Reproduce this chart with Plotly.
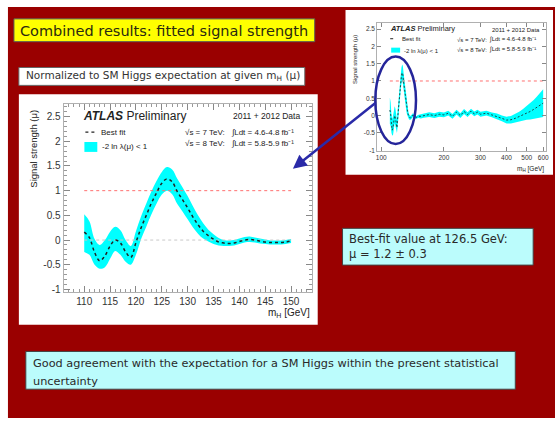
import plotly.graph_objects as go

W, H = 558, 421

# ---------------- data ----------------
mass_main = [110, 111, 112, 113, 114, 115, 116, 117, 118, 119, 120,
             121, 122, 123, 124, 125, 126, 127, 128, 129, 130,
             131, 132, 133, 134, 135, 136, 137, 138, 139, 140,
             141, 142, 143, 144, 145, 146, 147, 148, 149, 150]
mu_main = [0.16, 0.05, -0.25, -0.42, -0.32, -0.12, 0.0, -0.06, -0.24, -0.35, -0.05,
           0.25, 0.5, 0.75, 0.96, 1.15, 1.24, 1.18, 0.98, 0.82, 0.65,
           0.47, 0.31, 0.18, 0.09, 0.02, -0.04, -0.06, -0.07, -0.06, -0.03,
           0.0, 0.01, 0.0, -0.02, -0.04, -0.05, -0.05, -0.05, -0.04, -0.02]
mu_up_main = [0.52, 0.38, 0.02, -0.1, 0.0, 0.17, 0.27, 0.2, 0.0, -0.12, 0.18,
              0.48, 0.74, 0.99, 1.2, 1.38, 1.48, 1.43, 1.24, 1.07, 0.89,
              0.69, 0.5, 0.34, 0.21, 0.12, 0.04, 0.0, -0.01, 0.0, 0.03,
              0.06, 0.07, 0.05, 0.03, 0.01, -0.01, -0.01, -0.01, 0.0, 0.02]
mu_dn_main = [-0.24, -0.3, -0.5, -0.58, -0.55, -0.38, -0.22, -0.3, -0.44, -0.5, -0.3,
              0.02, 0.27, 0.52, 0.74, 0.92, 1.0, 0.93, 0.73, 0.58, 0.42,
              0.26, 0.13, 0.03, -0.03, -0.08, -0.11, -0.12, -0.12, -0.11, -0.08,
              -0.05, -0.04, -0.05, -0.07, -0.08, -0.09, -0.09, -0.09, -0.08, -0.06]

mass_hi = [155, 160, 170, 180, 190, 200, 210, 220, 230, 240, 250, 260, 270, 280, 290,
           300, 320, 340, 360, 380, 400, 420, 440, 460, 480, 500, 520, 540, 560, 580, 600]
mu_hi = [-0.02, 0.0, 0.03, 0.0, 0.04, 0.02, 0.07, -0.02, 0.1, 0.0, 0.12, 0.03, 0.13, 0.05, 0.1,
         0.04, 0.07, 0.02, -0.02, -0.08, -0.13, -0.12, -0.08, -0.03, 0.02, 0.08, 0.12, 0.18, 0.24, 0.3, 0.36]
mu_up_hi = [0.04, 0.06, 0.1, 0.07, 0.11, 0.09, 0.14, 0.05, 0.17, 0.07, 0.19, 0.1, 0.2, 0.12, 0.17,
            0.11, 0.14, 0.09, 0.06, 0.0, -0.03, -0.01, 0.04, 0.11, 0.19, 0.28, 0.35, 0.45, 0.55, 0.65, 0.76]
mu_dn_hi = [-0.08, -0.06, -0.04, -0.07, -0.03, -0.05, 0.0, -0.09, 0.03, -0.07, 0.05, -0.04, 0.06, -0.02, 0.03,
            -0.03, 0.0, -0.05, -0.1, -0.16, -0.23, -0.23, -0.2, -0.17, -0.15, -0.12, -0.11, -0.09, -0.07, -0.05, -0.04]

sm_mu = 1.0
zero_mu = 0.0
ref_mass_main = [110, 150]
ref_mass_inset = [110, 600]

main_xticks = [110, 115, 120, 125, 130, 135, 140, 145, 150]
main_yticks = [-1, -0.5, 0, 0.5, 1, 1.5, 2, 2.5]
main_ytick_text = ["-1", "-0.5", "0", "0.5", "1", "1.5", "2", "2.5"]
inset_xticks = [100, 200, 300, 400, 500, 600]

title_text = "Combined results: fitted signal strength"
subtitle_text = "Normalized to SM Higgs expectation at given m<sub>H</sub> (μ)"
bestfit_lines = ["Best-fit value at 126.5 GeV:", "μ = 1.2 ± 0.3"]
conclusion_lines = ["Good agreement with the expectation for a SM Higgs within the present statistical",
                    "uncertainty"]

# ---------------- helpers ----------------
def px(x):
    return x / W

def py(y):
    return 1 - y / H

SLIDE_FONT = "DejaVu Sans"
PLOT_FONT = "Liberation Sans"
CYAN = "#00ffff"

fig = go.Figure()

# ---------- main plot traces ----------
fig.add_trace(go.Scatter(x=mass_main, y=mu_up_main, mode="lines", line=dict(width=0, shape="spline"),
                         hoverinfo="skip", showlegend=False, xaxis="x", yaxis="y"))
fig.add_trace(go.Scatter(x=mass_main, y=mu_dn_main, mode="lines", line=dict(width=0, shape="spline"),
                         fill="tonexty", fillcolor=CYAN, hoverinfo="skip", showlegend=False,
                         xaxis="x", yaxis="y"))
fig.add_trace(go.Scatter(x=ref_mass_main, y=[sm_mu, sm_mu], mode="lines",
                         line=dict(color="#ff7070", width=1, dash="dot"), showlegend=False,
                         xaxis="x", yaxis="y"))
fig.add_trace(go.Scatter(x=ref_mass_main, y=[zero_mu, zero_mu], mode="lines",
                         line=dict(color="#c8c8c8", width=1, dash="dot"), showlegend=False,
                         xaxis="x", yaxis="y"))
fig.add_trace(go.Scatter(x=mass_main, y=mu_main, mode="lines",
                         line=dict(color="#222222", width=1.5, dash="3px,3px", shape="spline"),
                         showlegend=False, xaxis="x", yaxis="y"))

# ---------- inset traces ----------
mass_all = mass_main + mass_hi
fig.add_trace(go.Scatter(x=mass_all, y=mu_up_main + mu_up_hi, mode="lines",
                         line=dict(width=0), hoverinfo="skip", showlegend=False,
                         xaxis="x2", yaxis="y2"))
fig.add_trace(go.Scatter(x=mass_all, y=mu_dn_main + mu_dn_hi, mode="lines",
                         line=dict(width=0), fill="tonexty", fillcolor=CYAN,
                         hoverinfo="skip", showlegend=False, xaxis="x2", yaxis="y2"))
fig.add_trace(go.Scatter(x=ref_mass_inset, y=[sm_mu, sm_mu], mode="lines",
                         line=dict(color="#ff7070", width=1, dash="dot"), showlegend=False,
                         xaxis="x2", yaxis="y2"))
fig.add_trace(go.Scatter(x=mass_all, y=mu_main + mu_hi, mode="lines",
                         line=dict(color="#1a4a4a", width=1, dash="2px,2px"),
                         showlegend=False, xaxis="x2", yaxis="y2"))

# ---------- shapes ----------
shapes = []

def rect(x0, y0, x1, y1, fill, line_color=None, lw=0, layer="below"):
    shapes.append(dict(type="rect", xref="paper", yref="paper",
                       x0=px(x0), x1=px(x1), y0=py(y1), y1=py(y0),
                       fillcolor=fill, line=dict(color=line_color or fill, width=lw),
                       layer=layer))

rect(7, 7, 558, 421, "#9a0000")                       # slide background
rect(13, 19, 316, 42, "#ffff00", "#555555", 1)        # title box
rect(18, 68, 306, 86, "#ffffff", "#666666", 1)        # subtitle box
rect(18, 95, 319, 327, "#ffffff")                     # main chart paper
rect(347, 10, 556, 176, "#ffffff")                    # inset chart paper
rect(344, 230, 536, 267, "#bbfcfc", "#444444", 1)     # best fit box
rect(25, 354, 518, 392, "#bbfcfc", "#444444", 1)      # conclusion box

# legend symbols (main)
shapes.append(dict(type="line", xref="paper", yref="paper", x0=px(85), x1=px(95), y0=py(133), y1=py(133),
                   line=dict(color="#222", width=1.2, dash="3px,3px"), layer="above"))
rect(84, 143, 97, 153, CYAN, layer="above")
# legend symbols (inset)
shapes.append(dict(type="line", xref="paper", yref="paper", x0=px(392), x1=px(398), y0=py(39), y1=py(39),
                   line=dict(color="#222", width=1, dash="dot"), layer="above"))
rect(393, 48, 402, 53, CYAN, layer="above")

# blue ellipse around the peak in the inset
shapes.append(dict(type="circle", xref="paper", yref="paper",
                   x0=px(377), x1=px(418), y0=py(145), y1=py(57),
                   line=dict(color="#25259a", width=2.5), layer="above"))

# ---------- annotations ----------
ann = []

def text(x, y, s, size, font=PLOT_FONT, color="#222", xanchor="left", angle=0, yanchor="middle"):
    ann.append(dict(x=px(x), y=py(y), xref="paper", yref="paper", text=s, showarrow=False,
                    xanchor=xanchor, yanchor=yanchor, textangle=angle,
                    font=dict(family=font, size=size, color=color)))

# slide texts
text(17, 31, title_text, 14.5, SLIDE_FONT, "#2a2a10")
text(23, 77, subtitle_text, 10.5, SLIDE_FONT, "#333")
text(349, 241, bestfit_lines[0], 11.5, SLIDE_FONT, "#2a2a2a")
text(349, 256, bestfit_lines[1], 11.5, SLIDE_FONT, "#2a2a2a")
text(30, 366, conclusion_lines[0], 11.3, SLIDE_FONT, "#2a2a2a")
text(30, 384, conclusion_lines[1], 11.3, SLIDE_FONT, "#2a2a2a")

# main chart labels
text(81, 117, "<b><i>ATLAS</i></b> Preliminary", 12)
text(303, 117, "2011 + 2012 Data", 8.5, xanchor="right")
text(99, 133, "Best fit", 8)
text(100, 148, "-2 ln λ(μ) < 1", 8)
text(183, 133, "√s = 7 TeV:", 8)
text(183, 145, "√s = 8 TeV:", 8)
text(230, 133, "∫Ldt = 4.6-4.8 fb⁻¹", 8)
text(230, 145, "∫Ldt = 5.8-5.9 fb⁻¹", 8)
text(33, 150, "Signal strength (μ)", 9.5, angle=-90, xanchor="center")
text(313, 315, "m<sub>H</sub> [GeV]", 10, xanchor="right")

# inset labels
text(390, 29, "<b><i>ATLAS</i></b> Preliminary", 7.5)
text(545, 30, "2011 + 2012 Data", 6, xanchor="right")
text(402, 39, "Best fit", 6)
text(404, 51, "-2 ln λ(μ) < 1", 6)
text(457, 40, "√s = 7 TeV:", 6)
text(457, 50, "√s = 8 TeV:", 6)
text(490, 40, "∫Ldt = 4.6-4.8 fb⁻¹", 6)
text(490, 50, "∫Ldt = 5.8-5.9 fb⁻¹", 6)
text(356, 60, "Signal strength (μ)", 6, angle=-90, xanchor="center")
text(549, 170, "m<sub>H</sub> [GeV]", 6.5, xanchor="right")

# blue arrow from the ellipse to the main plot
ann.append(dict(x=px(294), y=py(170), xref="paper", yref="paper", text="", showarrow=True,
                ax=84, ay=-67, arrowhead=2, arrowsize=1.1, arrowwidth=2.5, arrowcolor="#2a2aa8"))

axis_common = dict(showgrid=False, zeroline=False, showline=True, linecolor="#b0b0b0",
                   linewidth=1, mirror="ticks", ticks="inside", tickcolor="#888")

fig.update_layout(
    width=W, height=H, autosize=False,
    margin=dict(l=0, r=0, t=0, b=0, pad=0),
    paper_bgcolor="#ffffff", plot_bgcolor="#ffffff",
    showlegend=False,
    xaxis=dict(domain=[px(63), px(313)], range=[106, 154], tickvals=main_xticks,
               ticklen=6, minor=dict(dtick=1, ticks="inside", ticklen=3, tickcolor="#999"),
               tickfont=dict(family=PLOT_FONT, size=10, color="#333"), anchor="y", **axis_common),
    yaxis=dict(domain=[py(294), py(105)], range=[-1.05, 2.75], tickvals=main_yticks,
               ticktext=main_ytick_text, ticklen=6,
               minor=dict(dtick=0.1, ticks="inside", ticklen=3, tickcolor="#999"),
               tickfont=dict(family=PLOT_FONT, size=10, color="#333"), anchor="x", **axis_common),
    xaxis2=dict(domain=[px(379), px(549)], type="log", range=[1.981, 2.792], tickvals=inset_xticks,
                ticktext=[str(v) for v in inset_xticks], ticklen=4,
                tickfont=dict(family=PLOT_FONT, size=6.5, color="#333"), anchor="y2", **axis_common),
    yaxis2=dict(domain=[py(152), py(23)], range=[-1.02, 2.68], tickvals=main_yticks,
                ticktext=main_ytick_text, ticklen=4,
                tickfont=dict(family=PLOT_FONT, size=6.5, color="#333"), anchor="x2", **axis_common),
    shapes=shapes,
    annotations=ann,
)

fig.write_html("out.html", config=dict(displayModeBar=False),
               post_script="document.body.style.margin='0';")
